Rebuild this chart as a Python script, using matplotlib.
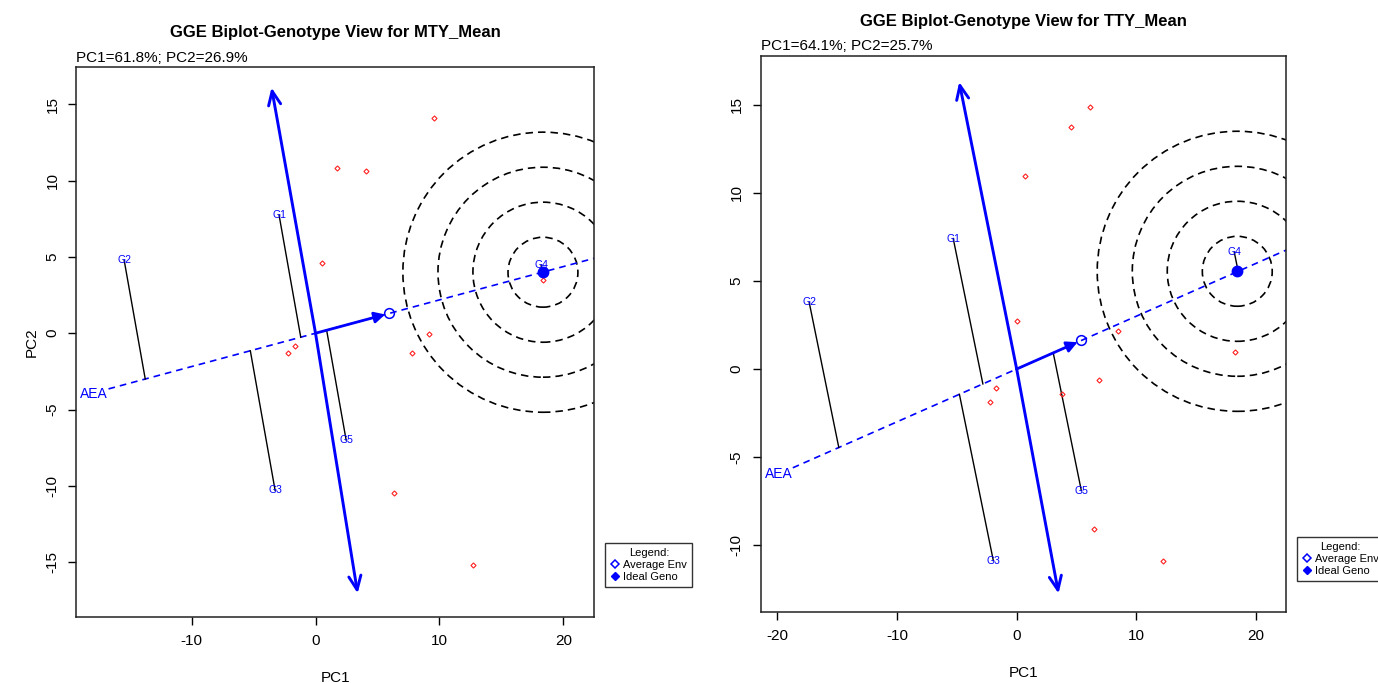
import matplotlib
matplotlib.use('Agg')
import matplotlib.pyplot as plt
from matplotlib.patches import Ellipse, FancyArrowPatch
from matplotlib.lines import Line2D
import numpy as np

plt.rcParams['font.family'] = ['Liberation Sans', 'DejaVu Sans']
plt.rcParams['axes.unicode_minus'] = False

# ---------------- data: MTY_Mean ----------------
mty_title = "GGE Biplot-Genotype View for MTY_Mean"
mty_sub = "PC1=61.8%; PC2=26.9%"
mty_geno = ['G1', 'G2', 'G3', 'G4', 'G5']
mty_geno_pc1 = [-2.94, -15.44, -3.26, 18.2, 2.47]
mty_geno_pc2 = [7.74, 4.79, -10.3, 4.46, -7.0]
mty_env_pc1 = [9.56, 1.74, 4.08, 0.53, 9.15, 7.79, -1.65, -2.21, 18.35, 6.34, 12.7]
mty_env_pc2 = [14.1, 10.83, 10.63, 4.59, -0.07, -1.31, -0.85, -1.31, 3.48, -10.5, -15.16]
mty_avg_env = [5.95, 1.3]
mty_ideal = [18.35, 4.0]
mty_aea_start = -16.7
mty_atc_top = [-3.55, 16.1]
mty_atc_bottom = [3.4, -17.05]
mty_circle_r = [2.82, 5.65, 8.47, 11.3]
mty_xticks = [-10, 0, 10, 20]
mty_yticks = [-15, -10, -5, 0, 5, 10, 15]

# ---------------- data: TTY_Mean ----------------
tty_title = "GGE Biplot-Genotype View for TTY_Mean"
tty_sub = "PC1=64.1%; PC2=25.7%"
tty_geno = ['G1', 'G2', 'G3', 'G4', 'G5']
tty_geno_pc1 = [-5.3, -17.33, -1.95, 18.18, 5.4]
tty_geno_pc2 = [7.41, 3.78, -10.88, 6.63, -6.9]
tty_env_pc1 = [6.15, 4.56, 0.72, 0.05, -1.7, -2.2, 6.9, 8.5, 3.8, 18.2, 6.5, 12.2]
tty_env_pc2 = [14.86, 13.72, 10.94, 2.7, -1.1, -1.9, -0.6, 2.14, -1.44, 0.94, -9.1, -10.9]
tty_avg_env = [5.4, 1.62]
tty_ideal = [18.43, 5.55]
tty_aea_start = -18.7
tty_atc_top = [-4.8, 16.3]
tty_atc_bottom = [3.5, -12.75]
tty_circle_r = [2.92, 5.85, 8.77, 11.7]
tty_xticks = [-20, -10, 0, 10, 20]
tty_yticks = [-10, -5, 0, 5, 10, 15]

W, H = 1378, 683
fig = plt.figure(figsize=(W / 100, H / 100), dpi=100)
ax1 = fig.add_axes([76.3 / W, 1 - 617 / H, (594.4 - 76.3) / W, (617 - 67) / H])
ax2 = fig.add_axes([760.5 / W, 1 - 612 / H, (1286 - 760.5) / W, (612 - 55.6) / H])

BLUE = '#0000ff'


def draw(ax, title, sub, geno, gx, gy, ex, ey, avg, ideal, aea_start, atc_top, atc_bot,
         radii, xlim, ylim, xticks, yticks, ylabel):
    ax.set_xlim(*xlim)
    ax.set_ylim(*ylim)
    ax.set_xticks(xticks)
    ax.set_yticks(yticks)
    ax.tick_params(direction='out', length=6, width=1, labelsize=11, pad=6, colors='black')
    plt.setp(ax.get_yticklabels(), rotation=90, va='center')
    for s in ax.spines.values():
        s.set_linewidth(1.1)
        s.set_color('#222222')
    ax.set_xlabel('PC1', fontsize=11, labelpad=17)
    if ylabel:
        ax.set_ylabel('PC2', fontsize=11, labelpad=5)

    # display scale
    p0 = ax.transData.transform((0, 0))
    p1 = ax.transData.transform((1, 1))
    sx, sy = p1[0] - p0[0], p1[1] - p0[1]

    # AEA axis
    u = np.array(avg) / np.hypot(*avg)
    slope = avg[1] / avg[0]
    xe = xlim[1] + 5
    ax.plot([aea_start, xe], [aea_start * slope, xe * slope], color=BLUE, lw=1.2,
            dashes=(4, 3), zorder=2)
    ax.text(aea_start - 1.2, aea_start * slope - 0.35, 'AEA', color=BLUE, fontsize=10,
            ha='center', va='center')

    # concentric circles (circular on screen)
    for r in radii:
        e = Ellipse(ideal, 2 * r, 2 * r * sx / sy, fill=False, edgecolor='black',
                    lw=1.2, linestyle=(0, (4.5, 3)), zorder=1)
        ax.add_patch(e)

    # projections of genotypes onto AEA
    for name, x, y in zip(geno, gx, gy):
        d = x * u[0] + y * u[1]
        fx, fy = d * u[0], d * u[1]
        ax.plot([x, fx], [y, fy], color='black', lw=1.0, zorder=3)
        ax.text(x, y, name, color=BLUE, fontsize=7.5, ha='center', va='center', zorder=5)

    # environments
    ax.plot(ex, ey, linestyle='none', marker='D', markersize=2.6, mfc='none',
            mec='#ff2020', mew=0.8, zorder=4)

    # ATC double arrow
    for end in (atc_top, atc_bot):
        a = FancyArrowPatch((0, 0), tuple(end), arrowstyle='->,head_length=0.5,head_width=0.22',
                            mutation_scale=20, color=BLUE, lw=2.1, zorder=6,
                            shrinkA=0, shrinkB=0)
        ax.add_patch(a)

    # average environment vector
    a = FancyArrowPatch((0, 0), tuple(avg), arrowstyle='-|>,head_length=0.35,head_width=0.18',
                        mutation_scale=18, color=BLUE, lw=2.0, zorder=6, shrinkA=0, shrinkB=3)
    ax.add_patch(a)
    ax.plot([avg[0]], [avg[1]], marker='o', markersize=7, mfc='none', mec=BLUE, mew=1.1,
            zorder=7)
    ax.plot([ideal[0]], [ideal[1]], marker='o', markersize=7.5, color=BLUE, zorder=7)

    # titles
    ax.annotate(title, xy=(0.5, 1), xycoords='axes fraction', xytext=(0, 24.5),
                textcoords='offset points', ha='center', va='center', fontsize=12,
                fontweight='bold')
    ax.annotate(sub, xy=(0, 1), xycoords='axes fraction', xytext=(0, 6.8),
                textcoords='offset points', ha='left', va='center', fontsize=11)

    # legend
    handles = [Line2D([], [], linestyle='none', marker='D', markersize=4.5, mfc='none',
                      mec=BLUE, mew=1.1),
               Line2D([], [], linestyle='none', marker='D', markersize=4.5, color=BLUE)]
    leg = ax.legend(handles, ['Average Env', 'Ideal Geno'], title='Legend:', loc='upper left',
                    bbox_to_anchor=(1.021, 0.135), fontsize=8, title_fontsize=8,
                    frameon=True, fancybox=False, edgecolor='black', handlelength=0.8,
                    handletextpad=0.3, labelspacing=0.15, borderpad=0.5, borderaxespad=0)
    leg.get_frame().set_linewidth(1.0)


draw(ax1, mty_title, mty_sub, mty_geno, mty_geno_pc1, mty_geno_pc2, mty_env_pc1, mty_env_pc2,
     mty_avg_env, mty_ideal, mty_aea_start, mty_atc_top, mty_atc_bottom, mty_circle_r,
     (-19.3, 22.5), (-18.6, 17.45), mty_xticks, mty_yticks, True)
draw(ax2, tty_title, tty_sub, tty_geno, tty_geno_pc1, tty_geno_pc2, tty_env_pc1, tty_env_pc2,
     tty_avg_env, tty_ideal, tty_aea_start, tty_atc_top, tty_atc_bottom, tty_circle_r,
     (-21.4, 22.5), (-13.8, 17.8), tty_xticks, tty_yticks, False)

fig.savefig('out.png', dpi=100)
